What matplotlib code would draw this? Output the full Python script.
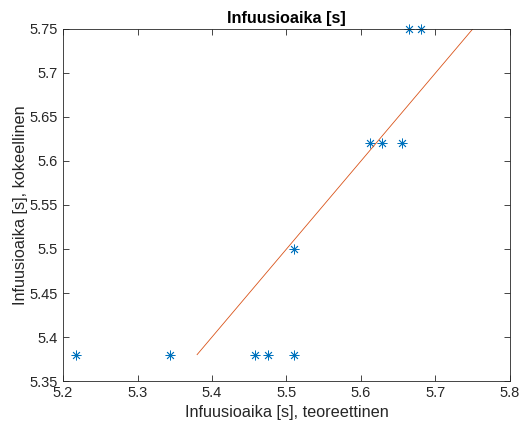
import numpy as np
import matplotlib.pyplot as plt

# teoreettinen vs kokeellinen infuusioaika
teoreettinen = [5.2175, 5.3436, 5.4577, 5.4752, 5.510, 5.510, 5.612, 5.628, 5.655, 5.664, 5.680]
kokeellinen = [5.38, 5.38, 5.38, 5.38, 5.38, 5.50, 5.62, 5.62, 5.62, 5.75, 5.75]
viiva = [5.38, 5.75]
x_ticks = [5.2, 5.3, 5.4, 5.5, 5.6, 5.7, 5.8]
y_ticks = [5.35, 5.4, 5.45, 5.5, 5.55, 5.6, 5.65, 5.7, 5.75]

plt.rcParams['font.family'] = ['Liberation Sans', 'DejaVu Sans']
tekstivari = '#262626'

fig = plt.figure(figsize=(5.22, 4.32), dpi=100)
ax = fig.add_axes([0.1207, 0.118, 0.8563, 0.815])

ax.plot(teoreettinen, kokeellinen, linestyle='none', marker=(8, 2, 0),
        markersize=7, markeredgewidth=0.6, color='#0072BD', clip_on=False)
ax.plot(viiva, viiva, color='#D95319', linewidth=0.6)

ax.set_xlim(5.2, 5.8)
ax.set_ylim(5.35, 5.75)
ax.set_xticks(x_ticks)
ax.set_yticks(y_ticks)
ax.set_xticklabels([f'{v:g}' for v in x_ticks])
ax.set_yticklabels([f'{v:g}' for v in y_ticks])

ax.tick_params(direction='in', length=4, width=0.6, labelsize=10.5, colors=tekstivari,
               top=True, right=True)
for s in ax.spines.values():
    s.set_color(tekstivari)
    s.set_linewidth(0.6)

ax.set_xlabel('Infuusioaika [s], teoreettinen', fontsize=11.7, color=tekstivari)
ax.set_ylabel('Infuusioaika [s], kokeellinen', fontsize=11.7, color=tekstivari, labelpad=1)
ax.set_title('Infuusioaika [s]', fontsize=11.7, fontweight='bold', color='black', pad=4)

fig.savefig('out.png', dpi=100)
